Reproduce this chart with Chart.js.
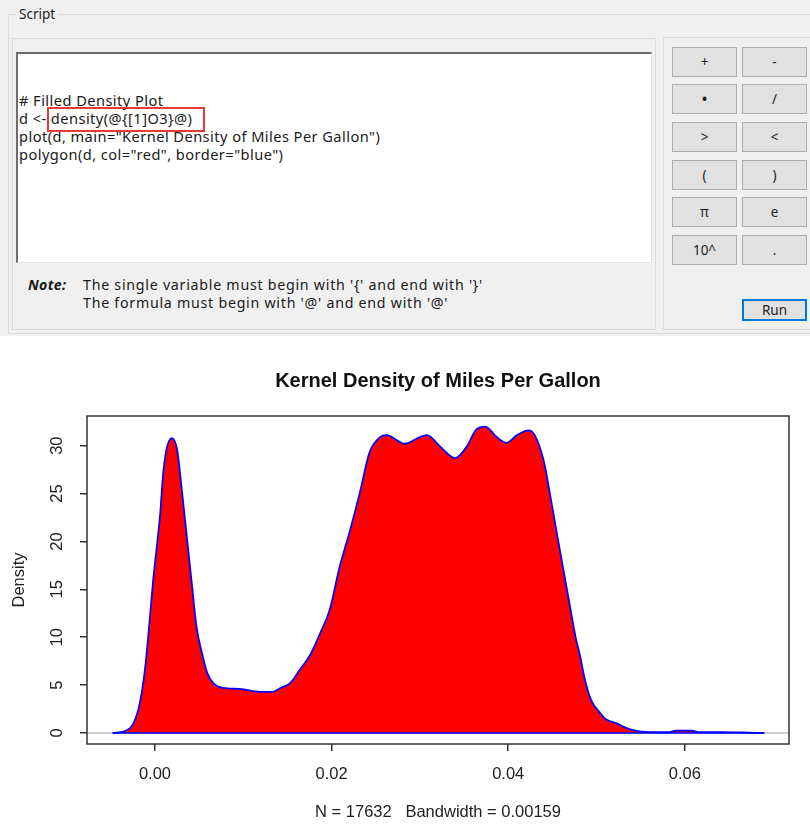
<!DOCTYPE html>
<html>
<head>
<meta charset="utf-8">
<script src="https://cdn.jsdelivr.net/npm/chart.js@4.4.1/dist/chart.umd.min.js"></script>
<style>
  body { margin: 0; width: 810px; height: 827px; background: #fff; overflow: hidden; position: relative; font-family: "Noto Sans", sans-serif; }
  .top { position: absolute; left: 0; top: 0; width: 810px; height: 336px; background: #f0f0f0; }
  .group { position: absolute; left: 8px; top: 14px; width: 810px; height: 318px; border: 1px solid #dcdcdc; }
  .legend { position: absolute; left: 16px; top: 5px; padding: 0 3px; background: #f0f0f0; font-size: 13.5px; color: #222; line-height: 18px; }
  .panelL { position: absolute; left: 12px; top: 38px; width: 642px; height: 290px; border: 1px solid #dadada; }
  .panelR { position: absolute; left: 663px; top: 37px; width: 150px; height: 291px; border: 1px solid #dadada; }
  .editor { position: absolute; left: 16px; top: 52px; width: 633px; height: 208px; background: #fff;
            border-top: 2px solid #6d6d6d; border-left: 2px solid #6d6d6d; border-right: 1px solid #e3e3e3; border-bottom: 1px solid #e3e3e3; }
  .code { position: absolute; left: 1px; top: 37px; font-size: 14.6px; letter-spacing: 0.45px; line-height: 18px; color: #1a1a1a; white-space: pre; }
  .mark { position: absolute; left: 29px; top: 53px; width: 154px; height: 21px; border: 2px solid #e63a37; }
  .note { position: absolute; top: 276px; font-size: 14.2px; letter-spacing: 0.75px; line-height: 17.5px; color: #1a1a1a; }
  .btn { position: absolute; width: 65px; height: 30px; background: #e1e1e1; border: 1px solid #adadad; box-sizing: border-box;
         font-size: 13.5px; color: #222; text-align: center; line-height: 28px; }
  .run { border: 2px solid #0078d7; line-height: 26px; }
  .plot { position: absolute; left: 0; top: 338px; }
</style>
</head>
<body>
<div class="top">
  <div class="group"></div>
  <div class="legend">Script</div>
  <div class="panelL"></div>
  <div class="panelR"></div>
  <div class="editor">
    <div class="code"># Filled Density Plot
d &lt;- density(@{[1]O3}@)
plot(d, main="Kernel Density of Miles Per Gallon")
polygon(d, col="red", border="blue")</div>
    <div class="mark"></div>
  </div>
  <div class="note" style="left:28px;letter-spacing:0.3px;"><b><i>Note:</i></b></div>
  <div class="note" style="left:83px;">The single variable must begin with '{' and end with '}'<br>The formula must begin with '@' and end with '@'</div>
  <div class="btn" style="left:672px;top:47px;">+</div>
  <div class="btn" style="left:742px;top:47px;">-</div>
  <div class="btn" style="left:672px;top:84px;"><b>•</b></div>
  <div class="btn" style="left:742px;top:84px;">/</div>
  <div class="btn" style="left:672px;top:122px;">&gt;</div>
  <div class="btn" style="left:742px;top:122px;">&lt;</div>
  <div class="btn" style="left:672px;top:160px;">(</div>
  <div class="btn" style="left:742px;top:160px;">)</div>
  <div class="btn" style="left:672px;top:197px;">π</div>
  <div class="btn" style="left:742px;top:197px;">e</div>
  <div class="btn" style="left:672px;top:235px;">10^</div>
  <div class="btn" style="left:742px;top:235px;">.</div>
  <div class="btn run" style="left:742px;top:299px;height:22px;line-height:18px;">Run</div>
</div>
<canvas id="canvas-1" class="plot" width="810" height="489"></canvas>
<script>
var densityX = [-0.0048, -0.0034, -0.0025, -0.0019, -0.0015, -0.0011, -0.0006, -0.0002, 0.0002, 0.0006,
    0.0009, 0.0013, 0.0019, 0.0025, 0.0030, 0.0036, 0.0042, 0.0047, 0.0053, 0.0059,
    0.0066, 0.0077, 0.0096, 0.0119, 0.0134, 0.0142, 0.0153, 0.0164, 0.0176, 0.0187,
    0.0198, 0.0209, 0.0221, 0.0232, 0.0243, 0.0255, 0.0262, 0.0283, 0.0300, 0.0308,
    0.0323, 0.0340, 0.0353, 0.0364, 0.0374, 0.0387, 0.0398, 0.0410, 0.0423, 0.0430,
    0.0440, 0.0447, 0.0455, 0.0462, 0.0470, 0.0477, 0.0481, 0.0487, 0.0494, 0.0504,
    0.0511, 0.0523, 0.0534, 0.0547, 0.0566, 0.0583, 0.0590, 0.0608, 0.0615, 0.0640,
    0.0664, 0.0690];
var densityY = [0, 0.2, 0.9, 2.4, 4.2, 6.9, 11.8, 16.0, 19.4, 23.0,
    26.8, 29.6, 30.8, 29.6, 25.7, 20.5, 15.3, 11.1, 8.4, 6.3,
    5.2, 4.7, 4.6, 4.3, 4.3, 4.7, 5.2, 6.6, 8.2, 10.4,
    12.9, 17.3, 21.2, 25.1, 29.3, 30.9, 31.1, 30.2, 30.9, 31.1,
    29.9, 28.7, 29.9, 31.7, 32.0, 30.9, 30.3, 31.1, 31.6, 31.1,
    28.5, 25.1, 20.9, 17.3, 13.2, 9.7, 8.2, 5.5, 3.4, 2.1,
    1.4, 1.0, 0.5, 0.2, 0.1, 0.1, 0.25, 0.25, 0.1, 0.08,
    0.05, 0];
var xTicks = [0, 0.02, 0.04, 0.06];
var yTicks = [0, 5, 10, 15, 20, 25, 30];

var points = densityX.map(function (x, i) { return {x: x, y: densityY[i]}; });
var last = points.length - 1;

// R style: box around the plot, grey zero line under the polygon
var boxPlugin = {
    id: 'rbox',
    beforeDatasetsDraw: function (chart) {
        var a = chart.chartArea, ctx = chart.ctx;
        var y0 = chart.scales.y.getPixelForValue(0);
        ctx.save();
        ctx.strokeStyle = '#bebebe';
        ctx.lineWidth = 1.5;
        ctx.beginPath();
        ctx.moveTo(a.left, y0);
        ctx.lineTo(a.right, y0);
        ctx.stroke();
        ctx.restore();
    },
    afterDatasetsDraw: function (chart) {
        var a = chart.chartArea, ctx = chart.ctx;
        ctx.save();
        ctx.strokeStyle = '#333';
        ctx.lineWidth = 1.5;
        ctx.strokeRect(a.left, a.top, a.right - a.left, a.bottom - a.top);
        ctx.restore();
    }
};

var font = {family: '"Liberation Sans", Arial, sans-serif', size: 16.5};

var ctx = document.getElementById('canvas-1');
var chart = new Chart(ctx, {
    type: 'line',
    data: {
        datasets: [{
            data: [points[0], points[last]],
            borderColor: '#0000ff',
            borderWidth: 1.5,
            pointRadius: 0,
            fill: false,
            order: 1
        }, {
            data: points,
            borderColor: '#0000ff',
            backgroundColor: '#ff0000',
            borderWidth: 1.8,
            pointRadius: 0,
            fill: 'origin',
            cubicInterpolationMode: 'monotone',
            order: 2
        }]
    },
    options: {
        responsive: false,
        animation: false,
        layout: {padding: {left: 0, right: 21, top: 0, bottom: 0}},
        plugins: {
            legend: {display: false},
            tooltip: {enabled: false},
            title: {
                display: true,
                fullSize: false,
                text: 'Kernel Density of Miles Per Gallon',
                color: '#111',
                font: {family: font.family, size: 20, weight: 'bold'},
                padding: {top: 31, bottom: 23}
            }
        },
        scales: {
            x: {
                type: 'linear',
                min: -0.0077,
                max: 0.0718,
                afterFit: function (s) { s.height = 83; },
                afterBuildTicks: function (s) { s.ticks = xTicks.map(function (v) { return {value: v}; }); },
                ticks: {
                    color: '#222',
                    font: font,
                    padding: 14,
                    maxRotation: 0,
                    callback: function (v) { return v.toFixed(2); }
                },
                grid: {drawOnChartArea: false, tickLength: 7, color: '#333', lineWidth: 1.5},
                border: {display: false},
                title: {
                    display: true,
                    text: 'N = 17632   Bandwidth = 0.00159',
                    color: '#222',
                    font: font,
                    padding: {top: 5, bottom: 5}
                }
            },
            y: {
                type: 'linear',
                min: -1.15,
                max: 33.1,
                afterFit: function (s) { s.width = 87; },
                afterBuildTicks: function (s) { s.ticks = yTicks.map(function (v) { return {value: v}; }); },
                ticks: {
                    color: '#222',
                    font: font,
                    padding: 13,
                    minRotation: 90,
                    maxRotation: 90,
                    crossAlign: 'center'
                },
                grid: {drawOnChartArea: false, tickLength: 7, color: '#333', lineWidth: 1.5},
                border: {display: false},
                title: {
                    display: true,
                    text: 'Density',
                    color: '#222',
                    font: font,
                    padding: {top: 10, bottom: 10}
                }
            }
        }
    },
    plugins: [boxPlugin]
});
</script>
</body>
</html>
